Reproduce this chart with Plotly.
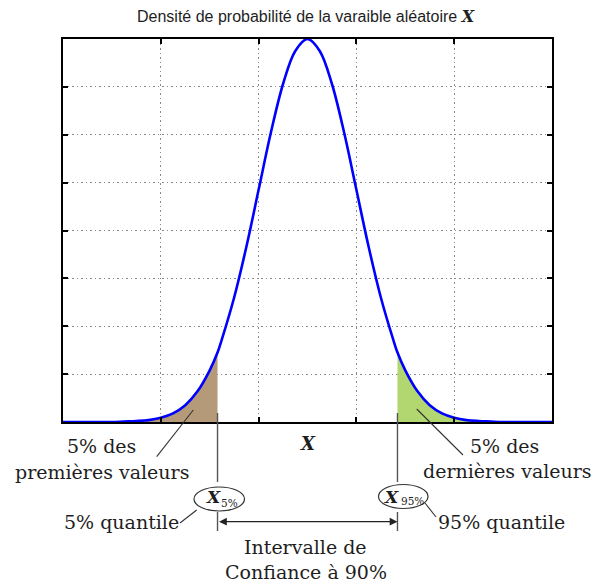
import plotly.graph_objects as go

# ---------------- data ----------------
x_vals = [-5.0, -4.75, -4.5, -4.25, -4.0, -3.75, -3.5, -3.25, -3.0, -2.75, -2.5, -2.25,
          -2.0, -1.84, -1.75, -1.5, -1.25, -1.0, -0.75, -0.5, -0.25, 0.0,
          0.25, 0.5, 0.75, 1.0, 1.25, 1.5, 1.75, 1.84, 2.0, 2.25, 2.5, 2.75,
          3.0, 3.25, 3.5, 3.75, 4.0, 4.25, 4.5, 4.75, 5.0]
density = [0.0, 0.0, 0.0, 0.0, 0.0, 0.01, 0.02, 0.04, 0.09, 0.18, 0.35, 0.64,
           1.08, 1.45, 1.73, 2.60, 3.66, 4.85, 6.04, 7.06, 7.75, 8.00,
           7.75, 7.06, 6.04, 4.85, 3.66, 2.60, 1.73, 1.45, 1.08, 0.64, 0.35, 0.18,
           0.09, 0.04, 0.02, 0.01, 0.0, 0.0, 0.0, 0.0, 0.0]
q05 = -1.84
q95 = 1.84
x_ticks = [-3, -1, 1, 3]
y_ticks = [1, 2, 3, 4, 5, 6, 7]
title_text = "Densité de probabilité de la varaible aléatoire "
axis_label = "X"
left_tail_lines = ["5% des", "premières valeurs"]
right_tail_lines = ["5% des", "dernières valeurs"]
q05_label = "5% quantile"
q95_label = "95% quantile"
q05_sub = "5%"
q95_sub = "95%"
interval_lines = ["Intervalle de", "Confiance à 90%"]

# ---------------- layout geometry ----------------
W, H = 594, 587
L, R, T, B = 63, 42, 39, 165
PW, PH = W - L - R, H - T - B


def px(x):
    return (x - L) / PW


def py(y):
    return (T + PH - y) / PH


SERIF = "DejaVu Serif"
TXT = "#1e1e1e"

left_x = [x for x in x_vals if x <= q05]
left_y = [d for x, d in zip(x_vals, density) if x <= q05]
right_x = [x for x in x_vals if x >= q95]
right_y = [d for x, d in zip(x_vals, density) if x >= q95]

fig = go.Figure()
fig.add_trace(go.Scatter(x=left_x, y=left_y, mode="lines", line=dict(width=0, shape="spline"),
                         fill="tozeroy", fillcolor="#b49a78", hoverinfo="skip", showlegend=False))
fig.add_trace(go.Scatter(x=right_x, y=right_y, mode="lines", line=dict(width=0, shape="spline"),
                         fill="tozeroy", fillcolor="#b2d670", hoverinfo="skip", showlegend=False))
fig.add_trace(go.Scatter(x=x_vals, y=density, mode="lines",
                         line=dict(color="#0000ff", width=2.6, shape="spline"),
                         showlegend=False))

axis_common = dict(showline=True, linecolor="black", linewidth=2, mirror="ticks",
                   ticks="inside", ticklen=5, tickwidth=2, tickcolor="black",
                   showticklabels=False, showgrid=True, gridcolor="#8a8a8a",
                   gridwidth=1, griddash="1.5px,3px", zeroline=False)
fig.update_xaxes(range=[-5, 5], tickvals=x_ticks, **axis_common)
fig.update_yaxes(range=[0, 8], tickvals=y_ticks, **axis_common)

ann = []
# title
ann.append(dict(x=px(306), y=py(17), xref="paper", yref="paper", showarrow=False,
                xanchor="center", yanchor="middle",
                text=title_text + "<span style='font-family:DejaVu Serif'><b><i>" + axis_label + "</i></b></span>",
                font=dict(family="Liberation Sans", size=16, color=TXT)))
# axis label
ann.append(dict(x=0, y=py(443), xref="x", yref="paper", showarrow=False,
                xanchor="center", yanchor="middle",
                text="<b><i>" + axis_label + "</i></b>",
                font=dict(family=SERIF, size=18, color=TXT)))


def txt(cx, cy, s, size=19, bold_italic=False):
    if bold_italic:
        s = "<b><i>" + s + "</i></b>"
    ann.append(dict(x=px(cx), y=py(cy), xref="paper", yref="paper", showarrow=False,
                    text=s, font=dict(family=SERIF, size=size, color=TXT),
                    xanchor="center", yanchor="middle"))


txt(101, 446, left_tail_lines[0])
txt(102, 472, left_tail_lines[1])
txt(504, 446, right_tail_lines[0])
txt(507, 471, right_tail_lines[1])
txt(121.5, 522, q05_label)
txt(501, 522, q95_label)
txt(305, 547, interval_lines[0])
txt(306, 572, interval_lines[1])

# quantile symbols in ellipses
txt(213.5, 497, axis_label, size=17, bold_italic=True)
txt(229.5, 503, q05_sub, size=10.5)
txt(391.5, 497, axis_label, size=17, bold_italic=True)
txt(412, 501, q95_sub, size=10.5)

# double arrow for the confidence interval
span_px = (q95 - q05) * PW / 10.0
ann.append(dict(x=q95, y=py(521.7), xref="x", yref="paper", ax=-span_px, ay=0,
                axref="pixel", ayref="pixel", text="", showarrow=True,
                arrowhead=2, arrowside="end+start", arrowsize=1.2, arrowwidth=1.3,
                arrowcolor="#222", standoff=0, startstandoff=0))
fig.update_layout(annotations=ann)

shapes = []
GREY = "#555"
for q in (q05, q95):
    shapes.append(dict(type="line", xref="x", yref="paper", x0=q, x1=q,
                       y0=py(413), y1=py(482), line=dict(color=GREY, width=1.4)))
    shapes.append(dict(type="line", xref="x", yref="paper", x0=q, x1=q,
                       y0=py(512), y1=py(531), line=dict(color=GREY, width=1.4)))
# ellipses
shapes.append(dict(type="circle", xref="paper", yref="paper",
                   x0=px(194), x1=px(244.5), y0=py(511), y1=py(487),
                   line=dict(color="#333", width=1.2)))
shapes.append(dict(type="circle", xref="paper", yref="paper",
                   x0=px(378.5), x1=px(428), y0=py(508.5), y1=py(484.5),
                   line=dict(color="#333", width=1.2)))
# leader lines
for (x0, y0, x1, y1) in [(193.3, 410, 156.7, 456.7), (416.7, 409, 463, 455),
                         (196.7, 510, 180, 523), (425, 503, 436, 517)]:
    shapes.append(dict(type="line", xref="paper", yref="paper",
                       x0=px(x0), y0=py(y0), x1=px(x1), y1=py(y1),
                       line=dict(color="#333", width=1.1)))

fig.update_layout(shapes=shapes, width=W, height=H,
                  margin=dict(l=L, r=R, t=T, b=B, pad=0),
                  paper_bgcolor="white", plot_bgcolor="white", showlegend=False)

fig.write_html("out.html", config={"displayModeBar": False},
               post_script="document.body.style.margin='0';document.body.style.overflow='hidden';")
